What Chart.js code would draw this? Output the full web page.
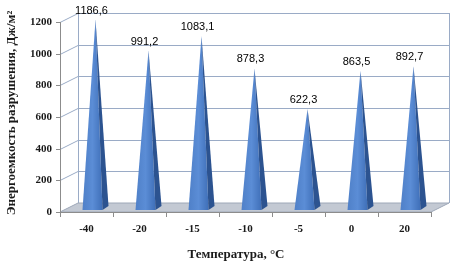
<!DOCTYPE html>
<html>
<head>
<meta charset="utf-8">
<script src="https://cdn.jsdelivr.net/npm/chart.js@4"></script>
<style>
  html, body { margin: 0; padding: 0; background: #fff; }
  #box { width: 457px; height: 265px; }
</style>
</head>
<body>
<div id="box"><canvas id="energyChart"></canvas></div>
<script>
// Data
const temperatures = ['-40', '-20', '-15', '-10', '-5', '0', '20'];
const energyValues = [1186.6, 991.2, 1083.1, 878.3, 622.3, 863.5, 892.7];
const yTicks = [0, 200, 400, 600, 800, 1000, 1200];

// 3D depth offset of the back wall
const depthX = 18;
const depthY = -9;

const serifBold = 'bold 11px "Liberation Serif", "DejaVu Serif", serif';

// Plugin: draws walls, floor, pyramids and all the texts
const pyramid3d = {
    id: 'pyramid3d',
    beforeDatasetsDraw(chart) {
        const ctx = chart.ctx;
        const x = chart.scales.x, y = chart.scales.y;
        const a = chart.chartArea;
        ctx.save();

        // side wall + back wall grid
        ctx.strokeStyle = '#9aabc6';
        ctx.lineWidth = 1;
        yTicks.forEach(t => {
            const py = Math.round(y.getPixelForValue(t)) + 0.5;
            if (t > 0) {
                ctx.beginPath();
                ctx.moveTo(a.left, py);
                ctx.lineTo(a.left + depthX, py + depthY);
                ctx.lineTo(a.right + depthX, py + depthY);
                ctx.stroke();
            }
        });
        ctx.beginPath();
        ctx.moveTo(a.left + depthX + 0.5, a.top + depthY);
        ctx.lineTo(a.left + depthX + 0.5, a.bottom + depthY);
        ctx.moveTo(a.right + depthX + 0.5, a.top + depthY);
        ctx.lineTo(a.right + depthX + 0.5, a.bottom + depthY);
        ctx.stroke();

        // floor
        ctx.beginPath();
        ctx.moveTo(a.left, a.bottom);
        ctx.lineTo(a.right, a.bottom);
        ctx.lineTo(a.right + depthX, a.bottom + depthY);
        ctx.lineTo(a.left + depthX, a.bottom + depthY);
        ctx.closePath();
        ctx.fillStyle = '#c3c9d3';
        ctx.fill();
        ctx.strokeStyle = '#9ea8b8';
        ctx.stroke();

        // front value axis
        ctx.strokeStyle = '#8c8c8c';
        ctx.beginPath();
        ctx.moveTo(a.left + 0.5, a.top);
        ctx.lineTo(a.left + 0.5, a.bottom);
        yTicks.forEach(t => {
            const py = Math.round(y.getPixelForValue(t)) + 0.5;
            ctx.moveTo(a.left - 4, py);
            ctx.lineTo(a.left, py);
        });
        // category axis with ticks between categories
        ctx.moveTo(a.left, a.bottom + 0.5);
        ctx.lineTo(a.right, a.bottom + 0.5);
        const step = (a.right - a.left) / temperatures.length;
        for (let i = 0; i <= temperatures.length; i++) {
            const px = Math.round(a.left + i * step) + 0.5;
            ctx.moveTo(px, a.bottom);
            ctx.lineTo(px, a.bottom + 5);
        }
        ctx.stroke();

        // tick labels
        ctx.fillStyle = '#1a1a1a';
        ctx.font = serifBold;
        ctx.textAlign = 'right';
        ctx.textBaseline = 'middle';
        yTicks.forEach(t => ctx.fillText(String(t), a.left - 8, y.getPixelForValue(t)));
        ctx.textAlign = 'center';
        temperatures.forEach((lab, i) => ctx.fillText(lab, x.getPixelForValue(i), a.bottom + 17));

        // axis titles
        ctx.font = 'bold 13px "Liberation Serif", "DejaVu Serif", serif';
        ctx.fillText('Температура, °С', 236, 255);
        ctx.save();
        ctx.translate(12, 113);
        ctx.rotate(-Math.PI / 2);
        ctx.fillText('Энергоемкость разрушения, Дж/м²', 0, 0);
        ctx.restore();

        ctx.restore();
    },
    afterDatasetsDraw(chart) {
        const ctx = chart.ctx;
        const meta = chart.getDatasetMeta(0);
        ctx.save();
        meta.data.forEach((bar, i) => {
            const cx = bar.x + depthX / 2;
            const tip = bar.y + depthY / 2;
            const baseY = bar.base - 2;
            const half = 13;

            // front face
            const g = ctx.createLinearGradient(cx - half, 0, cx + 7, 0);
            g.addColorStop(0, '#4f80c8');
            g.addColorStop(0.5, '#5b8dd6');
            g.addColorStop(1, '#3f6fb8');
            ctx.beginPath();
            ctx.moveTo(cx - half, baseY);
            ctx.lineTo(cx + 7, baseY);
            ctx.lineTo(cx, tip);
            ctx.closePath();
            ctx.fillStyle = g;
            ctx.fill();

            // right face
            ctx.beginPath();
            ctx.moveTo(cx + 7, baseY);
            ctx.lineTo(cx + half, baseY - 4);
            ctx.lineTo(cx, tip);
            ctx.closePath();
            ctx.fillStyle = '#2c5390';
            ctx.fill();

            // value label
            ctx.fillStyle = '#000';
            ctx.font = '11px "Liberation Sans", Arial, sans-serif';
            ctx.textAlign = 'center';
            ctx.textBaseline = 'middle';
            const txt = energyValues[i].toFixed(1).replace('.', ',');
            ctx.fillText(txt, bar.x + 5, Math.max(tip - 9, 10));
        });
        ctx.restore();
    }
};

new Chart(document.getElementById('energyChart'), {
    type: 'bar',
    data: {
        labels: temperatures,
        datasets: [{
            data: energyValues,
            backgroundColor: 'rgba(0,0,0,0)',
            borderWidth: 0
        }]
    },
    options: {
        responsive: true,
        maintainAspectRatio: false,
        animation: false,
        layout: { padding: { left: 60, right: 26, top: 22, bottom: 53 } },
        scales: {
            x: { display: false, offset: true },
            y: { display: false, min: 0, max: 1200 }
        },
        plugins: {
            legend: { display: false },
            tooltip: { enabled: false }
        }
    },
    plugins: [pyramid3d]
});
</script>
</body>
</html>
